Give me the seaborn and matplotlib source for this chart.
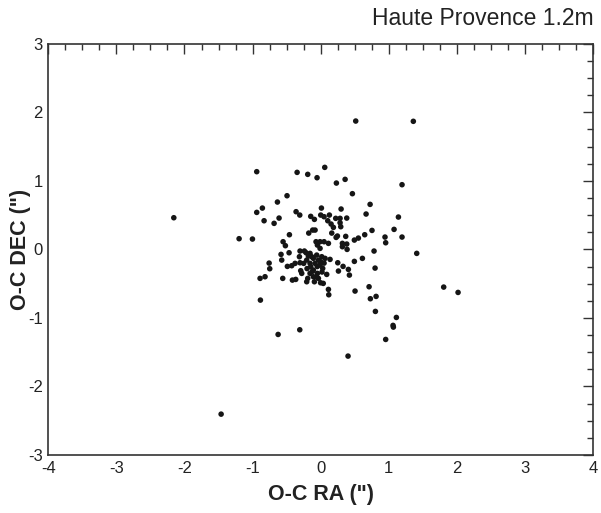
import numpy as np
import pandas as pd
import matplotlib
matplotlib.use("Agg")
import matplotlib.pyplot as plt
from matplotlib.ticker import MultipleLocator
import seaborn as sns

oc_ra = [0.515, 1.361, -0.939, -0.346, -0.190, 0.060, -0.053, 0.231, 0.359, 1.195,
         0.466, -0.494, -0.635, -0.856, -0.939, -2.157, -0.831, -0.684, -0.611, -0.361,
         -0.307, 0.011, 0.300, 0.726, 0.667, 1.142, -0.146, -0.092, 0.001, 0.050,
         0.128, 0.104, 0.153, 0.187, 0.221, 0.285, 0.383, 0.285, 0.295, 1.078,
         -1.198, -1.002, -0.459, -0.175, -0.117, -0.082, 0.163, 0.227, 0.246, 0.368,
         0.495, 0.554, 0.647, 0.754, 0.945, 0.955, 1.195, 1.411, 0.784, 0.613,
         0.495, 0.799, -0.552, -0.518, -0.464, -0.582, -0.572, -0.303, -0.239, -0.068,
         -0.009, 0.050, 0.114, -0.048, -0.009, 0.319, 0.383, 0.319, 0.388, -0.757,
         -0.748, -0.890, -0.817, -0.557, -0.489, -0.425, -0.376, -0.312, -0.303, -0.278,
         -0.293, -0.415, -0.366, -0.249, -0.205, -0.180, -0.131, -0.205, -0.190, -0.156,
         -0.107, -0.146, -0.082, -0.033, -0.058, 0.016, 0.065, -0.009, -0.048, -0.107,
         -0.092, -0.001, 0.038, -0.033, 0.089, 0.030, 0.138, 0.251, 0.261, 0.329,
         0.407, 0.422, 0.114, 0.119, 0.505, 0.711, 0.730, 0.814, -0.885, 0.804,
         1.112, 1.063, 1.068, 0.955, -0.625, -0.307, 0.402, -1.462, 1.807, 2.018,
         -0.214, -0.156, -0.107, -0.156, -0.050, 0.000, -0.120, -0.200, 0.050, -0.060,
         0.020]
oc_dec = [1.873, 1.869, 1.134, 1.124, 1.095, 1.197, 1.046, 0.968, 1.022, 0.944,
          0.813, 0.783, 0.691, 0.603, 0.540, 0.462, 0.418, 0.380, 0.457, 0.550,
          0.501, 0.603, 0.589, 0.657, 0.516, 0.472, 0.482, 0.438, 0.501, 0.477,
          0.501, 0.418, 0.370, 0.321, 0.453, 0.453, 0.457, 0.389, 0.331, 0.292,
          0.156, 0.151, 0.214, 0.238, 0.282, 0.282, 0.238, 0.175, 0.195, 0.190,
          0.136, 0.165, 0.214, 0.277, 0.180, 0.097, 0.180, -0.058, -0.024, -0.131,
          -0.175, -0.273, 0.112, 0.054, -0.049, -0.073, -0.156, -0.024, -0.024, 0.112,
          0.112, 0.112, 0.088, 0.063, 0.015, 0.088, 0.078, 0.039, 0.000, -0.200,
          -0.282, -0.423, -0.399, -0.423, -0.248, -0.238, -0.204, -0.107, -0.195, -0.350,
          -0.311, -0.448, -0.438, -0.204, -0.156, -0.097, -0.107, -0.472, -0.423, -0.350,
          -0.302, -0.253, -0.204, -0.156, -0.083, -0.107, -0.131, -0.229, -0.350, -0.399,
          -0.472, -0.487, -0.496, -0.423, -0.365, -0.277, -0.146, -0.195, -0.316, -0.248,
          -0.292, -0.375, -0.584, -0.662, -0.608, -0.545, -0.720, -0.686, -0.740, -0.905,
          -0.993, -1.109, -1.134, -1.314, -1.241, -1.173, -1.557, -2.404, -0.550, -0.628,
          -0.049, -0.058, -0.131, -0.204, -0.250, -0.180, -0.320, -0.280, -0.200, -0.400,
          -0.330]

x_ticks = [-4, -3, -2, -1, 0, 1, 2, 3, 4]
y_ticks = [-3, -2, -1, 0, 1, 2, 3]

sns.set_style("white")
plt.rcParams['font.family'] = ['Liberation Sans', 'DejaVu Sans']

df = pd.DataFrame({"ra": oc_ra, "dec": oc_dec})

fig = plt.figure(figsize=(6.01, 5.13), dpi=100)
ax = fig.add_axes([0.0804, 0.1131, 0.9063, 0.8015])
sns.scatterplot(data=df, x="ra", y="dec", ax=ax, color="#151515", s=16,
                edgecolor="none", linewidth=0)

ax.set_xlim(-4, 4)
ax.set_ylim(-3, 3)
ax.set_xticks(x_ticks)
ax.set_yticks(y_ticks)
ax.set_xticklabels([str(t) for t in x_ticks])
ax.set_yticklabels([str(t) for t in y_ticks])
ax.xaxis.set_minor_locator(MultipleLocator(0.25))
ax.yaxis.set_minor_locator(MultipleLocator(0.25))
ax.tick_params(which="major", direction="in", length=7, width=1.0, color="#333333",
               top=True, right=True, labelsize=12, pad=4, labelcolor="#222222")
ax.tick_params(which="minor", direction="in", length=4, width=1.0, color="#333333",
               top=True, right=True)
for sp in ax.spines.values():
    sp.set_color("#333333")
    sp.set_linewidth(1.2)

ax.set_xlabel('O-C RA (")', fontsize=15.5, fontweight="bold", color="#222222", labelpad=6)
ax.set_ylabel('O-C DEC (")', fontsize=15.5, fontweight="bold", color="#222222")
ax.yaxis.set_label_coords(-0.032, 0.5)
fig.text(0.987, 0.963, "Haute Provence 1.2m", ha="right", va="center", fontsize=16.5,
         color="#222222")

fig.savefig("out.png", dpi=100)
